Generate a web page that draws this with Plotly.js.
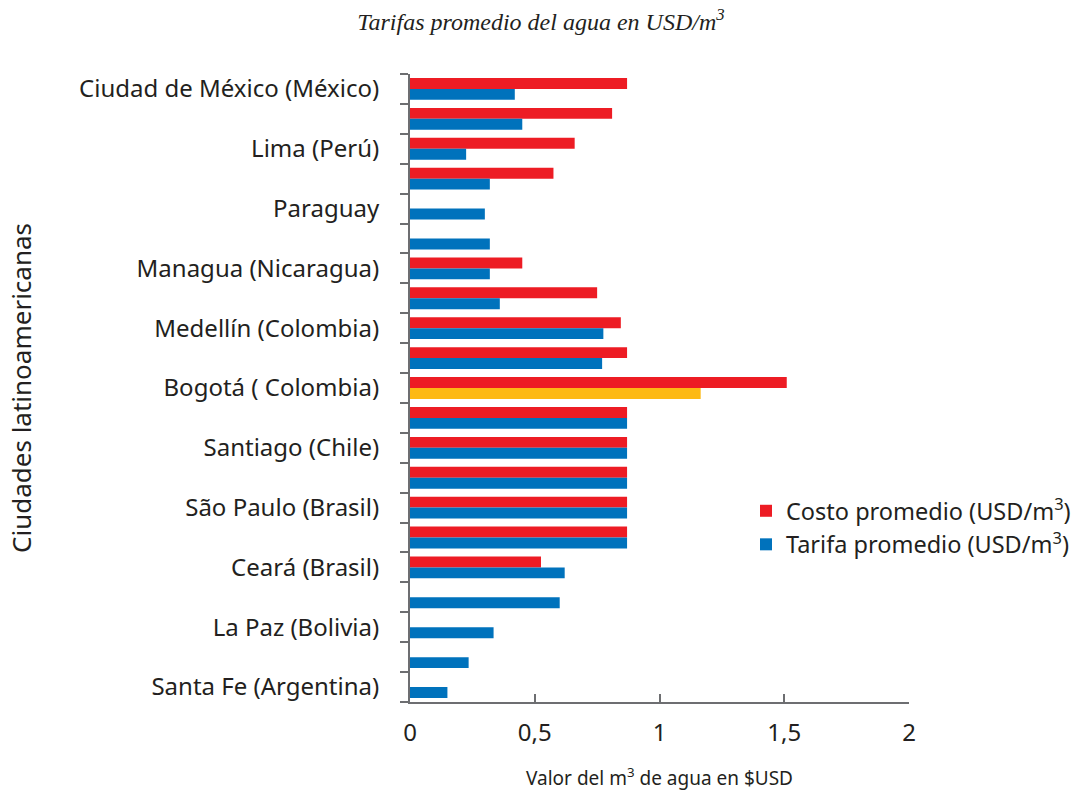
<!DOCTYPE html>
<html>
<head>
<meta charset="utf-8">
<script src="https://cdn.plot.ly/plotly-3.0.1.min.js"></script>
<style>html,body{margin:0;padding:0;background:#fff;}#chart{width:1075px;height:792px;}</style>
</head>
<body>
<div id="chart"></div>
<script>
// Rows from top to bottom; empty label = unlabeled row
const categories = ["Ciudad de México (México)", "", "Lima (Perú)", "", "Paraguay", "", "Managua (Nicaragua)", "", "Medellín (Colombia)", "", "Bogotá ( Colombia)", "", "Santiago (Chile)", "", "São Paulo (Brasil)", "", "Ceará (Brasil)", "", "La Paz (Bolivia)", "", "Santa Fe (Argentina)"];
const costo = [0.87, 0.81, 0.66, 0.575, null, null, 0.45, 0.75, 0.845, 0.87, 1.51, 0.87, 0.87, 0.87, 0.87, 0.87, 0.525, null, null, null, null];
const tarifa = [0.42, 0.45, 0.225, 0.32, 0.30, 0.32, 0.32, 0.36, 0.775, 0.77, 1.165, 0.87, 0.87, 0.87, 0.87, 0.87, 0.62, 0.60, 0.335, 0.235, 0.15];
const highlightRow = "Bogotá ( Colombia)";
const xTicks = [0, 0.5, 1, 1.5, 2];

const RED = "#ED1C24", BLUE = "#0072BC", ORANGE = "#FDB913", AXIS = "#6D6E71", TXT = "#231F20";
const rows = categories.map((_, i) => i);
const tickRows = rows.filter(i => categories[i] !== "");
const tickLabels = tickRows.map(i => categories[i]);
const boundaries = rows.concat([rows.length]).map(i => i - 0.5);
const tarifaColors = categories.map(c => c === highlightRow ? ORANGE : BLUE);

const traces = [
  {type: "bar", orientation: "h", name: "Costo promedio (USD/m<sup>3</sup>)", x: costo, y: rows,
   marker: {color: RED}, hoverinfo: "x"},
  {type: "bar", orientation: "h", name: "Tarifa promedio (USD/m<sup>3</sup>)", x: tarifa, y: rows,
   marker: {color: tarifaColors}, hoverinfo: "x"}
];

const layout = {
  width: 1075, height: 792,
  margin: {l: 410, r: 166, t: 74, b: 90, autoexpand: false},
  paper_bgcolor: "#fff", plot_bgcolor: "#fff",
  separators: ", ",
  barmode: "group", bargap: 0.27, bargroupgap: 0,
  font: {family: "Noto Sans, Open Sans, sans-serif", color: TXT},
  title: {
    text: "Tarifas promedio del agua en USD/m<sup>3</sup>",
    font: {family: "Liberation Serif, DejaVu Serif, serif", style: "italic", size: 24, color: TXT},
    xref: "container", x: 541/1075, xanchor: "center", yref: "container", y: 1 - 22/792, yanchor: "middle"
  },
  xaxis: {
    range: [0, 2], tickmode: "array", tickvals: xTicks,
    showline: true, linecolor: AXIS, linewidth: 2,
    ticks: "inside", ticklen: 8, tickwidth: 2, tickcolor: AXIS,
    showgrid: false, zeroline: false,
    tickfont: {size: 24, color: TXT}, ticklabelstandoff: 8,
    title: {text: "Valor del m<sup>3</sup> de agua en $USD", font: {size: 19, color: TXT}, standoff: 25},
    fixedrange: true
  },
  yaxis: {
    range: [rows.length - 0.5, -0.5],
    tickmode: "array", tickvals: tickRows, ticktext: tickLabels,
    ticks: "", showline: true, linecolor: AXIS, linewidth: 2,
    minor: {tickmode: "array", tickvals: boundaries, ticks: "outside", ticklen: 8, tickwidth: 2, tickcolor: AXIS, showgrid: false},
    showgrid: false, zeroline: false,
    tickfont: {size: 24, color: TXT}, ticklabelstandoff: 24,
    title: {text: "Ciudades latinoamericanas", font: {size: 26, color: TXT}, standoff: 40},
    fixedrange: true
  },
  showlegend: true,
  legend: {
    xref: "container", yref: "container",
    x: 746/1075, xanchor: "left", y: 1 - 489/792, yanchor: "top",
    font: {size: 23.5, color: TXT}, traceorder: "normal",
    bgcolor: "rgba(0,0,0,0)", itemwidth: 30, tracegroupgap: 0
  }
};

Plotly.newPlot("chart", traces, layout, {displayModeBar: false, staticPlot: true});
</script>
</body>
</html>
